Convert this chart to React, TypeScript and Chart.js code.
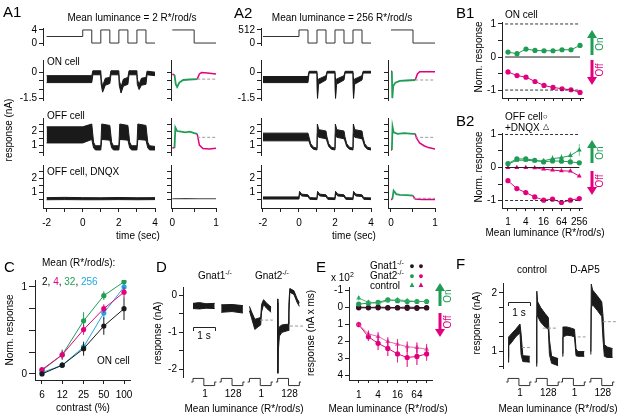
import React, { useEffect, useRef } from 'react';
import { Chart, registerables } from 'chart.js';

Chart.register(...registerables);

const FONT = '"Liberation Sans", Arial, Helvetica, sans-serif';
const GREEN = '#1f9d55';
const MAGENTA = '#e3007f';
const CYAN = '#1fa8e2';
const INK = '#1a1a1a';
const DASH = '#9a9a9a';
const DARKM = '#3a0d24';

// ---------------- data ----------------
// A: stimulus (time in s)
const STIM_T = [-2, 0, 0.5, 1, 1.5, 2, 2.5, 3, 3.5, 4];
const STIM_A1 = [2, 4, 0, 4, 0, 4, 0, 4, 0, 0];
const STIM_A2 = [256, 512, 0, 512, 0, 512, 0, 512, 0, 0];
const CYC_T = [0, 0.5, 1];
const CYC_A1 = [4, 0, 0];
const CYC_A2 = [512, 0, 0];

const TIME_TICKS = [-2, -1, 0, 1, 2, 3, 4];
const TIME_LABELS = ['-2', '', '0', '', '2', '', '4'];
const CYC_TICKS = [0, 0.5, 1];
const CYC_LABELS = ['0', '', '1'];
const ON_TICKS = [-1.5, -1, -0.5, 0];
const ON_LABELS = ['-1.5', '', '', '0'];
const OFF_TICKS = [0.5, 1, 1.5, 2, 2.5];
const OFF_LABELS = ['', '1', '', '2', ''];

// A1 ON cell trace (noise envelope)
const A1_ON_T = [-2, 0.5, 0.56, 1.0, 1.02, 1.1, 1.25, 1.5, 1.56, 2.0, 2.02, 2.12, 2.25, 2.5, 2.56, 3.0, 3.02, 3.12, 3.25, 3.5, 3.56, 4.0];
const A1_ON_HI = [-0.2, -0.2, 0.08, 0.08, -0.4, -0.8, -0.35, -0.3, 0.08, 0.08, -0.45, -0.85, -0.4, -0.3, 0.08, 0.08, -0.4, -0.7, -0.35, -0.3, 0.06, 0.0];
const A1_ON_LO = [-0.6, -0.6, -0.15, -0.15, -0.7, -1.15, -0.75, -0.65, -0.15, -0.15, -0.75, -1.2, -0.8, -0.7, -0.15, -0.15, -0.7, -1.0, -0.75, -0.7, -0.15, -0.2];
// A1 OFF cell trace
const A1_OFF_T = [-2, 0, 0.5, 0.6, 0.7, 1.0, 1.05, 1.5, 1.6, 1.7, 2.0, 2.05, 2.5, 2.6, 2.7, 3.0, 3.05, 3.5, 3.6, 3.7, 4.0];
const A1_OFF_HI = [2.3, 2.3, 2.5, 1.2, 0.95, 0.95, 2.5, 2.4, 1.2, 0.95, 0.95, 2.5, 2.4, 1.2, 0.95, 0.95, 2.5, 2.4, 1.2, 0.95, 0.9];
const A1_OFF_LO = [1.15, 1.15, 1.4, 0.8, 0.65, 0.65, 1.4, 1.35, 0.8, 0.65, 0.65, 1.4, 1.35, 0.8, 0.65, 0.65, 1.4, 1.35, 0.8, 0.65, 0.65];
// A1 OFF cell + DNQX
const A1_DQ_T = [-2, -1, 0, 1, 2, 3, 4];
const A1_DQ_HI = [0.6, 0.62, 0.6, 0.59, 0.61, 0.59, 0.6];
const A1_DQ_LO = [0.45, 0.46, 0.45, 0.45, 0.46, 0.45, 0.46];
// A1 cycle averages
const A1_ONR_M1_T = [0, 0.05]; const A1_ONR_M1 = [-0.12, -0.15];
const A1_ONR_G_T = [0.05, 0.08, 0.11, 0.16, 0.25, 0.4, 0.57]; const A1_ONR_G = [-0.15, -0.7, -0.85, -0.6, -0.45, -0.42, -0.4];
const A1_ONR_M2_T = [0.57, 0.62, 0.67, 0.8, 1.0]; const A1_ONR_M2 = [-0.4, -0.1, -0.02, -0.05, -0.1];
const A1_ONR_MEAN = -0.4;
const A1_OFFR_M1_T = [0, 0.05]; const A1_OFFR_M1 = [0.8, 0.8];
const A1_OFFR_G_T = [0.05, 0.07, 0.11, 0.2, 0.3, 0.4, 0.5, 0.57]; const A1_OFFR_G = [0.8, 2.25, 2.0, 1.95, 1.9, 1.95, 1.85, 1.8];
const A1_OFFR_M2_T = [0.57, 0.62, 0.7, 0.85, 1.0]; const A1_OFFR_M2 = [1.8, 1.0, 0.75, 0.72, 0.78];
const A1_OFFR_MEAN = 1.55;
const A1_DQR_T = [0, 0.3, 0.6, 1.0]; const A1_DQR = [0.52, 0.53, 0.52, 0.52];

// A2 traces
const A2_ON_T = [-2, 0.5, 0.56, 1.0, 1.01, 1.03, 1.08, 1.5, 1.56, 2.0, 2.01, 2.03, 2.08, 2.5, 2.56, 3.0, 3.01, 3.03, 3.08, 3.5, 3.56, 4.0];
const A2_ON_HI = [-0.25, -0.25, 0.05, 0.05, -0.3, -1.3, -0.4, -0.2, 0.05, 0.05, -0.3, -1.3, -0.4, -0.2, 0.05, 0.05, -0.3, -1.3, -0.4, -0.2, 0.05, 0.05];
const A2_ON_LO = [-0.6, -0.6, -0.05, -0.05, -1.0, -1.5, -0.7, -0.45, -0.05, -0.05, -1.0, -1.5, -0.7, -0.45, -0.05, -0.05, -1.0, -1.5, -0.7, -0.45, -0.05, -0.05];
const A2_OFF_T = [-2, 0.5, 0.55, 0.65, 0.8, 1.0, 1.02, 1.1, 1.5, 1.55, 1.65, 1.8, 2.0, 2.02, 2.1, 2.5, 2.55, 2.65, 2.8, 3.0, 3.02, 3.1, 3.5, 3.55, 3.65, 3.8, 4.0];
const A2_OFF_HI = [1.85, 1.85, 1.6, 1.1, 0.85, 0.78, 2.5, 2.1, 2.0, 1.6, 1.1, 0.85, 0.78, 2.5, 2.1, 2.0, 1.6, 1.1, 0.85, 0.78, 2.5, 2.1, 2.0, 1.6, 1.1, 0.85, 0.78];
const A2_OFF_LO = [1.3, 1.3, 1.3, 0.9, 0.7, 0.65, 1.8, 1.55, 1.45, 1.3, 0.9, 0.7, 0.65, 1.8, 1.55, 1.45, 1.3, 0.9, 0.7, 0.65, 1.8, 1.55, 1.45, 1.3, 0.9, 0.7, 0.65];
const A2_DQ_T = [-2, 0, 0.03, 0.15, 0.5, 0.6, 1.0, 1.03, 1.15, 1.5, 1.6, 2.0, 2.03, 2.15, 2.5, 2.6, 3.0, 3.03, 3.15, 3.5, 3.6, 4.0];
const A2_DQ_HI = [0.65, 0.65, 1.05, 0.85, 0.8, 0.6, 0.58, 1.05, 0.85, 0.8, 0.6, 0.58, 1.05, 0.85, 0.8, 0.6, 0.58, 1.05, 0.85, 0.8, 0.6, 0.58];
const A2_DQ_LO = [0.5, 0.5, 0.9, 0.72, 0.68, 0.48, 0.46, 0.9, 0.72, 0.68, 0.48, 0.46, 0.9, 0.72, 0.68, 0.48, 0.46, 0.9, 0.72, 0.68, 0.48, 0.46];
const A2_ONR_M1_T = [0, 0.02]; const A2_ONR_M1 = [0.05, 0.05];
const A2_ONR_G_T = [0.02, 0.03, 0.05, 0.1, 0.2, 0.35, 0.55]; const A2_ONR_G = [0.05, -1.5, -0.8, -0.6, -0.5, -0.48, -0.45];
const A2_ONR_M2_T = [0.55, 0.6, 0.65, 1.0]; const A2_ONR_M2 = [-0.45, -0.1, 0.02, 0.02];
const A2_ONR_MEAN = -0.45;
const A2_OFFR_M1_T = [0, 0.02]; const A2_OFFR_M1 = [0.65, 0.65];
const A2_OFFR_G_T = [0.02, 0.035, 0.06, 0.15, 0.3, 0.5, 0.55]; const A2_OFFR_G = [0.65, 2.3, 1.9, 1.8, 1.85, 1.8, 1.8];
const A2_OFFR_M2_T = [0.55, 0.58, 0.65, 0.75, 0.85, 1.0]; const A2_OFFR_M2 = [1.8, 1.5, 1.15, 0.95, 0.82, 0.72];
const A2_OFFR_MEAN = 1.55;
const A2_DQR_M1_T = [0, 0.03]; const A2_DQR_M1 = [0.47, 0.47];
const A2_DQR_G_T = [0.03, 0.06, 0.12, 0.2, 0.35, 0.5]; const A2_DQR_G = [0.47, 1.1, 0.85, 0.8, 0.78, 0.75];
const A2_DQR_M2_T = [0.5, 0.55, 0.7, 1.0]; const A2_DQR_M2 = [0.75, 0.5, 0.47, 0.47];
const A2_DQR_MEAN = 0.55;

// B: luminance series
const LUM = [1, 2, 4, 8, 16, 32, 64, 128, 256];
const LUM_LABELS = ['1', '', '4', '', '16', '', '64', '', '256'];
const REF_X = [0.8, 256];
const B1_ON = [0.15, 0.1, 0.24, 0.2, 0.19, 0.19, 0.22, 0.22, 0.35];
const B1_OFF = [-0.45, -0.56, -0.61, -0.74, -0.86, -0.92, -0.96, -0.99, -1.07];
const B2_ON_CELL = [0.12, 0.26, 0.26, 0.22, 0.17, 0.2, 0.19, 0.17, 0.14];
const B2_ON_DNQX = [0.1, 0.22, 0.22, 0.2, 0.2, 0.27, 0.3, 0.36, 0.53];
const B2_ON_DNQX_ERR = [0, 0, 0, 0, 0.08, 0.1, 0.1, 0.12, 0.18];
const B2_OFF_CELL = [-0.4, -0.64, -0.76, -0.89, -0.99, -0.96, -1.06, -0.99, -0.94];
const B2_OFF_DNQX = [0, 0, 0, -0.01, -0.05, -0.08, -0.1, -0.11, -0.26];
const NORM_TICKS = [-1, -0.5, 0, 0.5, 1];
const NORM_LABELS = ['-1', '', '0', '', '1'];

// C: contrast response
const CONTRAST = [6, 12, 25, 50, 100];
const CONTRAST_LABELS = ['6', '12', '25', '50', '100'];
const C_2 = [0, 0.1, 0.29, 0.55, 0.75];
const C_2_ERR = [0.02, 0.03, 0.08, 0.1, 0.13];
const C_4 = [0.05, 0.22, 0.51, 0.75, 0.94];
const C_4_ERR = [0.02, 0.05, 0.06, 0.05, 0.06];
const C_32 = [0.04, 0.22, 0.61, 0.9, 1.06];
const C_32_ERR = [0.02, 0.06, 0.1, 0.05, 0.03];
const C_256 = [0.015, 0.1, 0.31, 0.7, 1.0];
const C_256_ERR = [0.01, 0.03, 0.04, 0.07, 0.04];

// D: Gnat1 / Gnat2 traces (4 one-second segments)
const D_OFFSETS = [0, 1.3, 2.6, 3.9];
const D_LUM_LABELS = ['1', '128', '1', '128'];
const D1_T = [0, 0.3, 0.6, 1]; const D1_HI = [-0.22, -0.2, -0.23, -0.22]; const D1_LO = [-0.36, -0.37, -0.35, -0.36];
const D2_T = [0, 0.5, 1]; const D2_HI = [-0.26, -0.25, -0.28]; const D2_LO = [-0.46, -0.44, -0.48];
const D3_T = [0, 0.1, 0.25, 0.4, 0.52, 0.56, 0.65, 0.8, 1.0];
const D3_HI = [-0.3, -0.45, -0.65, -0.62, -0.6, -0.25, -0.12, -0.22, -0.32];
const D3_LO = [-0.42, -0.62, -0.92, -0.85, -0.8, -0.45, -0.25, -0.36, -0.46];
const D4_T = [0, 0.01, 0.03, 0.08, 0.2, 0.48, 0.52, 0.56, 0.75, 0.9, 1.0];
const D4_HI = [-0.1, -1.2, -1.0, -0.85, -0.8, -0.78, -0.2, 0.18, 0.12, -0.1, -0.2];
const D4_LO = [-0.2, -2.1, -1.5, -1.1, -1.0, -0.95, -0.5, 0.08, 0.02, -0.2, -0.3];
const D3_MEAN_T = [0.5, 1.08]; const D3_MEAN = -0.67;
const D4_MEAN_T = [0.57, 1.17]; const D4_MEAN = -0.83;
const SEG_STIM_T = [-0.08, 0, 0.5, 1, 1.08];
const SEG_STIM = [0.5, 1, 0, 0.5, 0.5];

// E: response integrals (x 10^2 nA ms)
const E_LUM = [1, 2, 4, 8, 16, 32, 64, 128];
const E_LUM_LABELS = ['1', '', '4', '', '16', '', '64', ''];
const E_G1_ON = [-0.02, 0, -0.02, 0, 0, -0.02, 0, 0];
const E_G1_OFF = [0.02, 0.02, 0.02, 0.03, 0.03, 0.05, 0.05, 0.03];
const E_G2_ON = [-0.2, -0.25, -0.3, -0.45, -0.4, -0.35, -0.35, -0.35];
const E_G2_OFF = [1.0, 1.72, 2.1, 2.4, 2.72, 2.93, 2.87, 2.72];
const E_G2_OFF_ERR = [0.15, 0.25, 0.4, 0.45, 0.5, 0.55, 0.5, 0.4];
const E_CT_ON = [-0.55, -0.3, -0.25, -0.4, -0.45, -0.4, -0.35, -0.35];
const E_CT_ON_ERR = [0.12, 0.1, 0.1, 0.1, 0.1, 0.1, 0.1, 0.1];
const E_CT_OFF = [1.0, 1.55, 1.7, 2.0, 2.15, 2.3, 2.35, 2.45];
const E_CT_OFF_ERR = [0.15, 0.2, 0.25, 0.25, 0.3, 0.3, 0.3, 0.3];
const E_TICKS = [-1, 0, 1, 2, 3, 4];
const E_LABELS = ['-1', '0', '1', '2', '3', '4'];

// F: control / D-AP5 traces
const F_OFFSETS = [0, 1.3, 2.5, 3.8];
const F_LUM_LABELS = ['1', '128', '1', '128'];
const F1_T = [0, 0.03, 0.15, 0.35, 0.55, 0.6, 0.68, 1.0];
const F1_HI = [0.9, 1.25, 1.3, 1.38, 1.47, 1.3, 0.93, 0.92];
const F1_LO = [0.82, 1.1, 1.15, 1.25, 1.32, 0.95, 0.83, 0.82];
const F2_T = [0, 0.02, 0.06, 0.2, 0.4, 0.55, 0.6, 0.7, 1.0];
const F2_HI = [0.8, 2.03, 1.85, 1.75, 1.65, 1.58, 1.2, 0.92, 0.88];
const F2_LO = [0.75, 1.6, 1.6, 1.5, 1.42, 1.38, 0.95, 0.8, 0.76];
const F3_T = [0, 0.02, 0.2, 0.4, 0.55, 0.62, 0.7, 1.0];
const F3_HI = [0.97, 1.42, 1.42, 1.4, 1.38, 1.05, 1.0, 1.0];
const F3_LO = [0.92, 1.25, 1.28, 1.27, 1.25, 0.93, 0.92, 0.92];
const F4_T = [0, 0.02, 0.08, 0.3, 0.5, 0.56, 0.62, 0.75, 1.0];
const F4_HI = [1.0, 2.15, 2.05, 1.95, 1.85, 1.6, 1.12, 1.08, 1.05];
const F4_LO = [0.95, 1.75, 1.8, 1.7, 1.6, 1.2, 0.92, 0.9, 0.9];
const F_MEAN_T = [[0.64, 1.1], [0.3, 0.98], [0.7, 1.06], [0.55, 1.24]];
const F_MEAN = [1.07, 1.4, 1.25, 1.51];
const F_TICKS = [0.75, 1, 1.25, 1.5, 1.75, 2];
const F_LABELS = ['', '1', '', '', '', '2'];
const D_TICKS = [-2, -1.5, -1, -0.5, 0];
const D_LABELS = ['-2', '', '-1', '', '0'];

// ---------------- helpers ----------------
const YW = 34, XH = 26, PT = 8, PR = 10;

type Axis = { type?: string; min: number; max: number; ticks?: number[]; labels?: string[]; show?: boolean; reverse?: boolean; grid?: boolean; border?: boolean; tl?: number; pad?: number };
type Spec = { box: number[]; x: Axis; y: Axis; build: () => any[] };

function scale(a: Axis, axis: 'x' | 'y') {
  const ticks = a.ticks || [];
  const labels = a.labels || [];
  const shown = a.show !== false;
  return {
    type: a.type || 'linear',
    display: shown,
    bounds: 'data',
    min: a.min,
    max: a.max,
    reverse: !!a.reverse,
    afterBuildTicks: (s: any) => { s.ticks = ticks.map((v) => ({ value: v })); },
    afterFit: (s: any) => {
      if (!shown) return;
      if (axis === 'y') s.width = YW; else s.height = XH;
    },
    ticks: {
      autoSkip: false, maxRotation: 0, minRotation: 0, padding: a.pad ?? 2, color: '#000',
      font: { family: FONT, size: 10 },
      callback: (_v: any, i: number) => labels[i] ?? '',
    },
    grid: { display: a.grid !== false, drawOnChartArea: false, drawTicks: true, tickLength: a.tl ?? 4, color: '#222', lineWidth: 1 },
    border: { display: a.border !== false, color: '#222', width: 1 },
  };
}

const P = (X: number[], Y: (number | null)[], o = 0) => X.map((x, i) => ({ x: x + o, y: Y[i] }));
const ln = (X: number[], Y: number[], color: string, w = 1, o = 0, extra: any = {}) => ({
  data: P(X, Y, o), borderColor: color, backgroundColor: color, borderWidth: w, pointRadius: 0, fill: false, ...extra,
});
const band = (X: number[], LO: number[], HI: number[], o = 0, color = INK) => [
  ln(X, HI, color, 1, o),
  { ...ln(X, LO, color, 1, o), fill: '-1' },
];
const dash = (X: number[], v: number, o = 0) => ln(X, X.map(() => v), DASH, 1, o, { borderDash: [3, 2] });
const stim = (X: number[], Y: number[], o = 0) => ln(X, Y, '#333', 1, o, { stepped: 'before' });
const marks = (X: number[], Y: number[], color: string, style = 'circle', r = 2.6) => ({
  data: P(X, Y), borderColor: color, backgroundColor: color, borderWidth: 1, pointRadius: r, pointStyle: style,
  pointBackgroundColor: color, pointBorderWidth: 0, fill: false,
});
const errs = (X: number[], Y: number[], E: number[], color: string) => ({
  data: X.flatMap((x, i) => (E[i] ? [{ x, y: Y[i] - E[i] }, { x, y: Y[i] + E[i] }, { x, y: null }] : [])),
  borderColor: color, borderWidth: 1, pointRadius: 0, fill: false, spanGaps: false,
});

function Panel({ spec }: { spec: Spec }) {
  const ref = useRef<HTMLCanvasElement | null>(null);
  const [bx, by, bw, bh] = spec.box;
  const showX = spec.x.show !== false;
  const showY = spec.y.show !== false;
  const W = bw + YW + PR;
  const H = bh + PT + XH;
  useEffect(() => {
    const chart = new Chart(ref.current as HTMLCanvasElement, {
      type: 'line',
      data: { datasets: spec.build() },
      options: {
        responsive: false,
        animation: false,
        devicePixelRatio: 1,
        events: [],
        layout: { padding: { left: showY ? 0 : YW, right: PR, top: PT, bottom: showX ? 0 : XH } },
        plugins: { legend: { display: false }, tooltip: { enabled: false } },
        elements: { point: { radius: 0 }, line: { tension: 0 } },
        scales: { x: scale(spec.x, 'x'), y: scale(spec.y, 'y') },
      } as any,
    });
    return () => chart.destroy();
  }, []);
  return (
    <canvas ref={ref} width={W} height={H}
      style={{ position: 'absolute', left: bx - YW, top: by - PT, width: W, height: H }} />
  );
}

function Txt({ x, y, s = 10, c = '#000', a = 'start', r = 0, children }: any) {
  const tx = a === 'middle' ? '-50%' : a === 'end' ? '-100%' : '0';
  return (
    <div style={{
      position: 'absolute', left: x, top: y, transform: `translate(${tx}, -50%) rotate(${r}deg)`,
      fontSize: s, color: c, whiteSpace: 'nowrap', lineHeight: 1, fontFamily: FONT,
    }}>{children}</div>
  );
}

const sup = (t: string) => <sup style={{ fontSize: 7, verticalAlign: 4, lineHeight: 0 }}>{t}</sup>;

// ---------------- panel specs ----------------
const hideX = (min: number, max: number): Axis => ({ min, max, show: false });
const A1X = [-2.2, 4];
const A2X = [-2.11, 4];
const A1RX = [-0.03, 1];
const A2RX = [-0.068, 1];

function aColumn(lx: number, lw: number, rx: number, rw: number, LX: number[], RX: number[], stimY: Axis, d: any): Spec[] {
  const onY: Axis = { min: -1.6, max: 0.7, ticks: ON_TICKS, labels: ON_LABELS };
  const offY: Axis = { min: 0.29, max: 2.93, ticks: OFF_TICKS, labels: OFF_LABELS };
  const dqY: Axis = { min: -0.14, max: 2.93, ticks: OFF_TICKS, labels: OFF_LABELS };
  const nol = (a: Axis): Axis => ({ ...a, labels: [] });
  return [
    { box: [lx, 28, lw, 17], x: hideX(LX[0], LX[1]), y: stimY, build: () => [stim(STIM_T, d.stim)] },
    { box: [rx, 28, rw, 17], x: hideX(RX[0], RX[1]), y: { ...stimY, show: false }, build: () => [stim(CYC_T, d.cyc)] },
    { box: [lx, 60, lw, 40], x: hideX(LX[0], LX[1]), y: onY, build: () => band(d.onT, d.onLo, d.onHi) },
    { box: [rx, 60, rw, 40], x: hideX(RX[0], RX[1]), y: nol(onY), build: () => d.onR },
    { box: [lx, 118, lw, 37], x: hideX(LX[0], LX[1]), y: offY, build: () => band(d.offT, d.offLo, d.offHi) },
    { box: [rx, 118, rw, 37], x: hideX(RX[0], RX[1]), y: nol(offY), build: () => d.offR },
    { box: [lx, 165, lw, 43], x: { min: LX[0], max: LX[1], ticks: TIME_TICKS, labels: TIME_LABELS, pad: 5 }, y: dqY, build: () => band(d.dqT, d.dqLo, d.dqHi) },
    { box: [rx, 165, rw, 43], x: { min: RX[0], max: RX[1], ticks: CYC_TICKS, labels: CYC_LABELS, pad: 5 }, y: nol(dqY), build: () => d.dqR },
  ];
}

const SPECS: Spec[] = [
  ...aColumn(43, 112, 171, 45, A1X, A1RX, { min: -0.6, max: 4.6, ticks: [0, 4], labels: ['0', '4'] }, {
    stim: STIM_A1, cyc: CYC_A1,
    onT: A1_ON_T, onLo: A1_ON_LO, onHi: A1_ON_HI,
    offT: A1_OFF_T, offLo: A1_OFF_LO, offHi: A1_OFF_HI,
    dqT: A1_DQ_T, dqLo: A1_DQ_LO, dqHi: A1_DQ_HI,
    get onR() { return [dash([0.57, 1], A1_ONR_MEAN), ln(A1_ONR_M1_T, A1_ONR_M1, MAGENTA, 1.5), ln(A1_ONR_G_T, A1_ONR_G, GREEN, 1.8), ln(A1_ONR_M2_T, A1_ONR_M2, MAGENTA, 1.5)]; },
    get offR() { return [dash([0.57, 1], A1_OFFR_MEAN), ln(A1_OFFR_M1_T, A1_OFFR_M1, MAGENTA, 1.5), ln(A1_OFFR_G_T, A1_OFFR_G, GREEN, 1.8), ln(A1_OFFR_M2_T, A1_OFFR_M2, MAGENTA, 1.5)]; },
    get dqR() { return [ln(A1_DQR_T, A1_DQR, '#444', 1.2)]; },
  }),
  ...aColumn(261, 110, 388, 47, A2X, A2RX, { min: -77, max: 589, ticks: [0, 512], labels: ['0', '512'] }, {
    stim: STIM_A2, cyc: CYC_A2,
    onT: A2_ON_T, onLo: A2_ON_LO, onHi: A2_ON_HI,
    offT: A2_OFF_T, offLo: A2_OFF_LO, offHi: A2_OFF_HI,
    dqT: A2_DQ_T, dqLo: A2_DQ_LO, dqHi: A2_DQ_HI,
    get onR() { return [dash([0.55, 1], A2_ONR_MEAN), ln(A2_ONR_M1_T, A2_ONR_M1, MAGENTA, 1.5), ln(A2_ONR_G_T, A2_ONR_G, GREEN, 1.8), ln(A2_ONR_M2_T, A2_ONR_M2, MAGENTA, 1.5)]; },
    get offR() { return [dash([0.55, 1], A2_OFFR_MEAN), ln(A2_OFFR_M1_T, A2_OFFR_M1, MAGENTA, 1.5), ln(A2_OFFR_G_T, A2_OFFR_G, GREEN, 1.8), ln(A2_OFFR_M2_T, A2_OFFR_M2, MAGENTA, 1.5)]; },
    get dqR() { return [dash([0.5, 1], A2_DQR_MEAN), ln(A2_DQR_M1_T, A2_DQR_M1, MAGENTA, 1.5), ln(A2_DQR_G_T, A2_DQR_G, GREEN, 1.8), ln(A2_DQR_M2_T, A2_DQR_M2, MAGENTA, 1.5)]; },
  }),
  // B1
  {
    box: [502, 22, 81, 76],
    x: { type: 'logarithmic', min: 0.63, max: 322, ticks: LUM, labels: [], tl: 3 },
    y: { min: -1.24, max: 1.06, ticks: NORM_TICKS, labels: NORM_LABELS },
    build: () => [
      ln(REF_X, [1, 1], '#333', 1, 0, { borderDash: [3, 2] }),
      ln(REF_X, [-1, -1], '#333', 1, 0, { borderDash: [3, 2] }),
      ln(REF_X, [0, 0], '#222', 1),
      marks(LUM, B1_ON, GREEN),
      marks(LUM, B1_OFF, MAGENTA),
    ],
  },
  // B2
  {
    box: [502, 133, 81, 75],
    x: { type: 'logarithmic', min: 0.63, max: 322, ticks: LUM, labels: LUM_LABELS, tl: 3, pad: 5 },
    y: { min: -1.227, max: 1.045, ticks: NORM_TICKS, labels: NORM_LABELS },
    build: () => [
      ln(REF_X, [1, 1], '#333', 1, 0, { borderDash: [3, 2] }),
      ln(REF_X, [-1, -1], '#333', 1, 0, { borderDash: [3, 2] }),
      ln(REF_X, [0, 0], '#222', 1),
      errs(LUM, B2_ON_DNQX, B2_ON_DNQX_ERR, 'rgba(31,157,85,0.6)'),
      marks(LUM, B2_ON_DNQX, GREEN, 'triangle', 2.8),
      marks(LUM, B2_ON_CELL, GREEN),
      marks(LUM, B2_OFF_DNQX, MAGENTA, 'triangle', 2.8),
      marks(LUM, B2_OFF_CELL, MAGENTA),
    ],
  },
  // C
  {
    box: [35, 280, 95, 100],
    x: { type: 'logarithmic', min: 4.72, max: 122.8, ticks: CONTRAST, labels: CONTRAST_LABELS, pad: 5 },
    y: { min: -0.07, max: 1.08, ticks: [0, 0.25, 0.5, 0.75, 1], labels: ['0', '', '', '', '1'], tl: 6 },
    build: () => [
      errs(CONTRAST, C_2, C_2_ERR, INK), marks(CONTRAST, C_2, INK),
      errs(CONTRAST, C_4, C_4_ERR, MAGENTA), marks(CONTRAST, C_4, MAGENTA),
      errs(CONTRAST, C_32, C_32_ERR, GREEN), marks(CONTRAST, C_32, GREEN),
      errs(CONTRAST, C_256, C_256_ERR, CYAN), marks(CONTRAST, C_256, CYAN),
    ],
  },
  // D
  {
    box: [183, 287, 122, 90],
    x: hideX(-0.46, 5.16),
    y: { min: -2.2, max: 0.22, ticks: D_TICKS, labels: D_LABELS },
    build: () => [
      dash(D3_MEAN_T, D3_MEAN, D_OFFSETS[2]),
      dash(D4_MEAN_T, D4_MEAN, D_OFFSETS[3]),
      ...band(D1_T, D1_LO, D1_HI, D_OFFSETS[0]),
      ...band(D2_T, D2_LO, D2_HI, D_OFFSETS[1]),
      ...band(D3_T, D3_LO, D3_HI, D_OFFSETS[2]),
      ...band(D4_T, D4_LO, D4_HI, D_OFFSETS[3]),
    ],
  },
  {
    box: [183, 377, 122, 10],
    x: { min: -0.46, max: 5.16, ticks: D_OFFSETS.map((o) => o + 0.55), labels: D_LUM_LABELS, grid: false, border: false, pad: -3 },
    y: { min: -0.2, max: 1.2, show: false },
    build: () => D_OFFSETS.map((o) => stim(SEG_STIM_T, SEG_STIM, o)),
  },
  // E
  {
    box: [349, 287, 83, 93],
    x: { type: 'logarithmic', min: 0.5, max: 188, ticks: E_LUM, labels: E_LUM_LABELS, tl: 3, pad: 6 },
    y: { min: -1.2, max: 4.25, reverse: true, ticks: E_TICKS, labels: E_LABELS },
    build: () => [
      errs(E_LUM, E_G2_OFF, E_G2_OFF_ERR, 'rgba(227,0,127,0.45)'),
      errs(E_LUM, E_CT_OFF, E_CT_OFF_ERR, 'rgba(227,0,127,0.45)'),
      errs(E_LUM, E_CT_ON, E_CT_ON_ERR, 'rgba(31,157,85,0.45)'),
      marks(E_LUM, E_CT_OFF, 'rgba(227,80,160,0.85)', 'triangle', 3),
      marks(E_LUM, E_G2_OFF, MAGENTA),
      marks(E_LUM, E_CT_ON, 'rgba(60,175,110,0.9)', 'triangle', 3),
      marks(E_LUM, E_G2_ON, GREEN),
      marks(E_LUM, E_G1_OFF, DARKM),
      marks(E_LUM, E_G1_ON, INK),
    ],
  },
  // F
  {
    box: [503, 283, 114, 85],
    x: hideX(-0.23, 5.0),
    y: { min: 0.72, max: 2.17, ticks: F_TICKS, labels: F_LABELS },
    build: () => [
      ...F_OFFSETS.map((o, i) => dash(F_MEAN_T[i], F_MEAN[i], o)),
      ...band(F1_T, F1_LO, F1_HI, F_OFFSETS[0]),
      ...band(F2_T, F2_LO, F2_HI, F_OFFSETS[1]),
      ...band(F3_T, F3_LO, F3_HI, F_OFFSETS[2]),
      ...band(F4_T, F4_LO, F4_HI, F_OFFSETS[3]),
    ],
  },
  {
    box: [503, 377, 114, 10],
    x: { min: -0.23, max: 5.0, ticks: F_OFFSETS.map((o) => o + 0.55), labels: F_LUM_LABELS, grid: false, border: false, pad: -4 },
    y: { min: -0.2, max: 1.2, show: false },
    build: () => F_OFFSETS.map((o) => stim(SEG_STIM_T, SEG_STIM, o)),
  },
];

function Arrow({ x, from, tip, color }: any) {
  const dir = tip < from ? 1 : -1;
  const base = tip + dir * 8;
  return (
    <g>
      <line x1={x} y1={from} x2={x} y2={base} stroke={color} strokeWidth={3} />
      <polygon points={`${x - 5},${base} ${x + 5},${base} ${x},${tip}`} fill={color} />
    </g>
  );
}

export default function App() {
  return (
    <div style={{ position: 'absolute', left: 0, top: 0, width: 622, height: 418, overflow: 'hidden', background: '#fff', fontFamily: FONT }}>
      {SPECS.map((s, i) => <Panel key={i} spec={s} />)}
      <svg width={622} height={418} style={{ position: 'absolute', left: 0, top: 0, pointerEvents: 'none' }}>
        <Arrow x={592} from={55} tip={30} color={GREEN} />
        <Arrow x={592} from={60} tip={85} color={MAGENTA} />
        <Arrow x={592} from={163} tip={140} color={GREEN} />
        <Arrow x={592} from={171} tip={195} color={MAGENTA} />
        <Arrow x={440} from={306} tip={283} color={GREEN} />
        <Arrow x={440} from={313} tip={337} color={MAGENTA} />
        <path d="M193.5,331 L193.5,327.5 L215.5,327.5 L215.5,331" stroke="#222" fill="none" strokeWidth={1} />
        <path d="M508.5,306 L508.5,302.5 L530.5,302.5 L530.5,306" stroke="#222" fill="none" strokeWidth={1} />
      </svg>

      {/* A1 */}
      <Txt x={3} y={11} s={15}>A1</Txt>
      <Txt x={132} y={18} a="middle">Mean luminance = 2 R*/rod/s</Txt>
      <Txt x={47} y={62}>ON cell</Txt>
      <Txt x={47} y={116}>OFF cell</Txt>
      <Txt x={47} y={172}>OFF cell, DNQX</Txt>
      <Txt x={9} y={130} a="middle" r={-90}>response (nA)</Txt>
      <Txt x={138} y={236} a="middle">time (sec)</Txt>
      {/* A2 */}
      <Txt x={234} y={12} s={15}>A2</Txt>
      <Txt x={342} y={18} a="middle">Mean luminance = 256 R*/rod/s</Txt>
      <Txt x={354} y={236} a="middle">time (sec)</Txt>
      {/* B */}
      <Txt x={456} y={12} s={15}>B1</Txt>
      <Txt x={505} y={15}>ON cell</Txt>
      <Txt x={479} y={57} a="middle" r={-90}>Norm. response</Txt>
      <Txt x={600} y={44} a="middle" r={-90} c={GREEN}>On</Txt>
      <Txt x={600} y={70} a="middle" r={-90} c={MAGENTA}>Off</Txt>
      <Txt x={456} y={120} s={15}>B2</Txt>
      <Txt x={505} y={117}>OFF cell<span style={{ fontSize: 8, verticalAlign: 1 }}>○</span></Txt>
      <Txt x={505} y={128}>+DNQX <span style={{ fontSize: 8, verticalAlign: 2 }}>△</span></Txt>
      <Txt x={479} y={167} a="middle" r={-90}>Norm. response</Txt>
      <Txt x={600} y={153} a="middle" r={-90} c={GREEN}>On</Txt>
      <Txt x={600} y={181} a="middle" r={-90} c={MAGENTA}>Off</Txt>
      <Txt x={545} y={233} a="middle">Mean luminance (R*/rod/s)</Txt>
      {/* C */}
      <Txt x={4} y={266} s={15}>C</Txt>
      <Txt x={42} y={263}>Mean (R*/rod/s):</Txt>
      <Txt x={42} y={282}>
        <span>2, </span><span style={{ color: MAGENTA }}>4</span><span>, </span>
        <span style={{ color: GREEN }}>32</span><span>, </span><span style={{ color: CYAN }}>256</span>
      </Txt>
      <Txt x={10} y={330} a="middle" r={-90}>Norm. response</Txt>
      <Txt x={97} y={361}>ON cell</Txt>
      <Txt x={83} y={408} a="middle">contrast (%)</Txt>
      {/* D */}
      <Txt x={156} y={266} s={15}>D</Txt>
      <Txt x={198} y={276}>Gnat1{sup('-/-')}</Txt>
      <Txt x={255} y={276}>Gnat2{sup('-/-')}</Txt>
      <Txt x={158} y={333} a="middle" r={-90}>response (nA)</Txt>
      <Txt x={204} y={336} a="middle">1 s</Txt>
      <Txt x={244} y={409} a="middle">Mean luminance (R*/rod/s)</Txt>
      {/* E */}
      <Txt x={316} y={266} s={15}>E</Txt>
      <Txt x={370} y={266}>Gnat1{sup('-/-')}</Txt>
      <Txt x={370} y={276}>Gnat2{sup('-/-')}</Txt>
      <Txt x={370} y={286}>control</Txt>
      <Txt x={412} y={266} a="middle" s={9} c={INK}>●</Txt>
      <Txt x={421} y={266} a="middle" s={9} c={DARKM}>●</Txt>
      <Txt x={412} y={276} a="middle" s={9} c={GREEN}>●</Txt>
      <Txt x={421} y={276} a="middle" s={9} c={MAGENTA}>●</Txt>
      <Txt x={412} y={285} a="middle" s={8} c={GREEN}>▲</Txt>
      <Txt x={421} y={285} a="middle" s={8} c={MAGENTA}>▲</Txt>
      <Txt x={331} y={278}>x 10{sup('2')}</Txt>
      <Txt x={311} y={333} a="middle" r={-90}>response (nA x ms)</Txt>
      <Txt x={448} y={296} a="middle" r={-90} c={GREEN}>On</Txt>
      <Txt x={448} y={322} a="middle" r={-90} c={MAGENTA}>Off</Txt>
      <Txt x={388} y={409} a="middle">Mean luminance (R*/rod/s)</Txt>
      {/* F */}
      <Txt x={456} y={263} s={15}>F</Txt>
      <Txt x={532} y={270} a="middle">control</Txt>
      <Txt x={585} y={270} a="middle">D-AP5</Txt>
      <Txt x={477} y={323} a="middle" r={-90}>response (nA)</Txt>
      <Txt x={519} y={313} a="middle">1 s</Txt>
      <Txt x={558} y={409} a="middle">Mean luminance (R*/rod/s)</Txt>
    </div>
  );
}
